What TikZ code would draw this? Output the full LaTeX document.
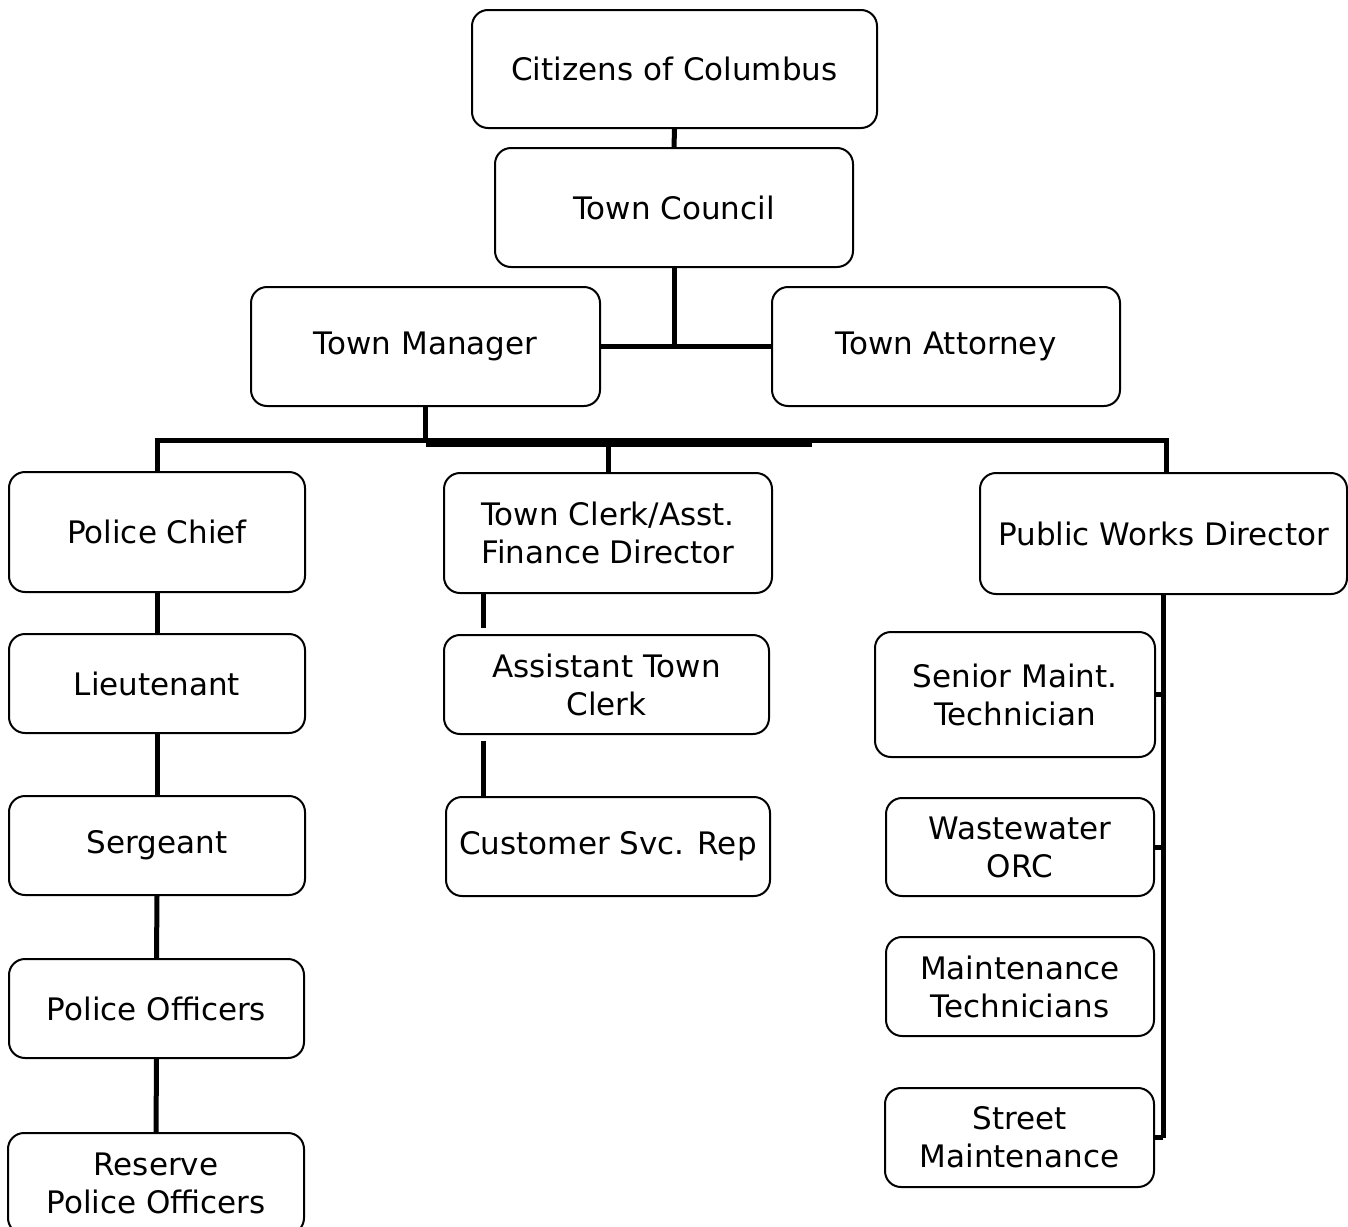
\documentclass[tikz,border=0pt]{standalone}
\usepackage{fontspec}
\setmainfont{DejaVu Sans}
\begin{document}
\begin{tikzpicture}[x=0.5pt,y=-0.5pt,
  box/.style={draw,line width=1pt,rounded corners=8pt,align=center,inner sep=0pt,
    font=\fontsize{15.5}{19}\selectfont},
  conn/.style={line width=2.5pt},
  thick bus/.style={line width=4.5pt}]
\useasboundingbox (0,0) rectangle (1348,1226);
\newcommand\bx[6]{\node[box,minimum width={(#4-#2)*0.5pt},minimum height={(#5-#3)*0.5pt}] (#1) at ({(#2+#4)/2},{(#3+#5)/2}) {#6};}
\bx{citizens}{472}{10}{877}{128}{Citizens of Columbus}
\bx{council}{495}{148}{853}{267}{Town Council}
\bx{manager}{251}{287}{600}{406}{Town Manager}
\bx{attorney}{772}{287}{1120}{406}{Town Attorney}
\bx{police}{9}{472}{305}{592}{Police Chief}
\bx{clerk}{444}{473}{772}{593}{Town Clerk/Asst.\\Finance Director}
\bx{pw}{980}{473}{1347}{594}{Public Works Director}
\bx{lt}{9}{634}{305}{733}{Lieutenant}
\bx{asst}{444}{635}{769}{734}{Assistant Town\\Clerk}
\bx{sgt}{9}{796}{305}{895}{Sergeant}
\bx{csr}{446}{797}{770}{896}{Customer Svc. Rep}
\bx{officers}{9}{959}{304}{1058}{Police Officers}
\bx{reserve}{8}{1133}{304}{1234}{Reserve\\Police Officers}
\bx{senior}{875}{632}{1155}{757}{Senior Maint.\\Technician}
\bx{ww}{886}{798}{1154}{896}{Wastewater\\ORC}
\bx{mt}{886}{937}{1154}{1036}{Maintenance\\Technicians}
\bx{street}{885}{1088}{1154}{1187}{Street\\Maintenance}
% coordinates
\coordinate (busL) at (157,440);
\coordinate (busR) at (1166,440);
\coordinate (thickEnd) at (812,442);
\coordinate (tcx) at (483,0);
\coordinate (pwx) at (1163,0);
% top connectors
\draw[conn] (citizens.south) -- (council.north);
\draw[conn] (council.south) -- (council.south |- manager.east);
\draw[conn] (manager.east) -- (attorney.west);
\draw[conn] (manager.south) -- (manager.south |- busL);
% bus
\draw[conn] (police.north) -- (police.north |- busL) -- (busR) -- (pw.north -| busR);
\draw[thick bus] ([yshift=-1pt]manager.south |- busL) -- (thickEnd);
\draw[conn] (clerk.north) -- (clerk.north |- busL);
% police chain
\draw[conn] (police.south) -- (lt.north);
\draw[conn] (lt.south) -- (sgt.north);
\draw[conn] (sgt.south) -- (officers.north);
\draw[conn] (officers.south) -- (reserve.north);
% clerk chain
\draw[conn] (clerk.south -| tcx) -- ([yshift=3pt]asst.north -| tcx);
\draw[conn] ([yshift=-3pt]asst.south -| tcx) -- (csr.north -| tcx);
% public works
\draw[conn] (pw.south -| pwx) -- (street.east -| pwx);
\draw[conn] (senior.east) -- (senior.east -| pwx);
\draw[conn] (ww.east) -- (ww.east -| pwx);
\draw[conn] (street.east) -- (street.east -| pwx);
\end{tikzpicture}
\end{document}
